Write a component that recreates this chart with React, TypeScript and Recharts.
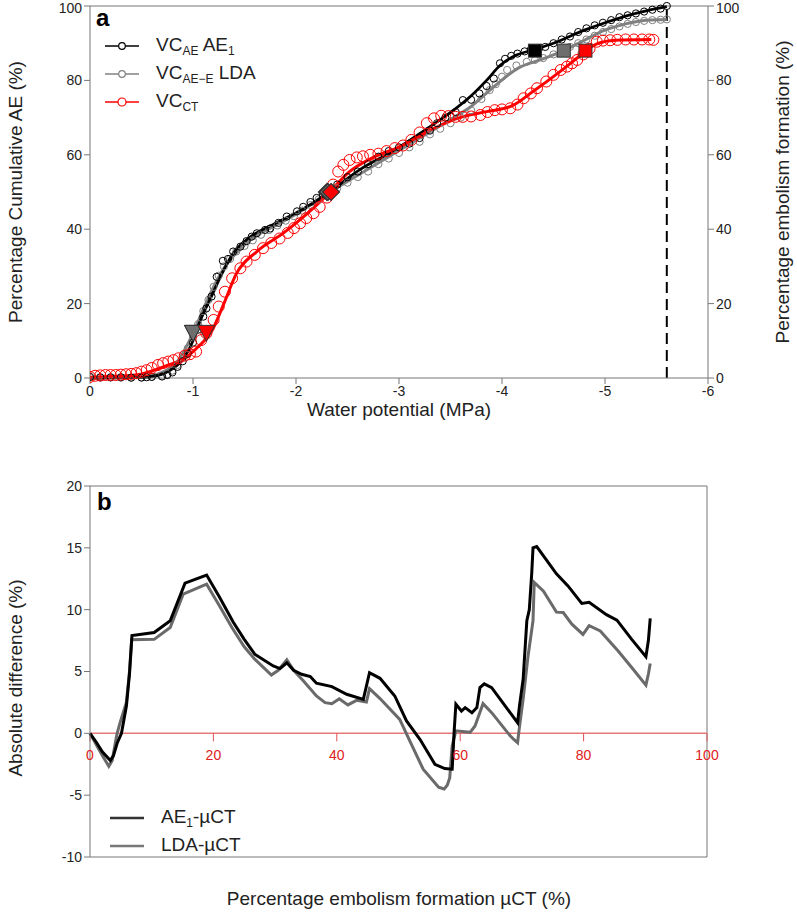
import React from "react";
import { ComposedChart, Line, Scatter, XAxis, YAxis, ReferenceLine } from "recharts";

const FONT = "'Liberation Sans', Arial, Helvetica, sans-serif";

// ---- panel a: vulnerability curves (water potential MPa, % embolism) ----
const psiTicks = [0, -1, -2, -3, -4, -5, -6];
const pctTicks = [0, 20, 40, 60, 80, 100];

const ae1Fit: [number, number][] = [
  [0, 0], [-0.4, 0.1], [-0.6, 0.4], [-0.76, 1.8], [-0.92, 5.7], [-1.0, 10], [-1.05, 14],
  [-1.18, 22], [-1.28, 28], [-1.39, 33.5], [-1.55, 37.8], [-1.78, 41.3], [-2.04, 45],
  [-2.3, 49.5], [-2.62, 56], [-2.94, 61], [-3.27, 67], [-3.53, 72], [-3.69, 75.6],
  [-3.85, 80], [-3.98, 84], [-4.14, 86.8], [-4.3, 88.2], [-4.5, 90], [-4.8, 93.5],
  [-5.0, 95.5], [-5.2, 97.3], [-5.4, 98.7], [-5.6, 99.8],
];

const ldaFit: [number, number][] = [
  [0, 0], [-0.5, 0.3], [-0.7, 1.5], [-0.85, 4.5], [-1.0, 12], [-1.1, 18.5], [-1.2, 24.5],
  [-1.3, 29.5], [-1.4, 33], [-1.55, 37], [-1.8, 41], [-2.0, 44], [-2.3, 49.5], [-2.6, 54.5],
  [-2.9, 59.5], [-3.2, 64.5], [-3.5, 69.5], [-3.7, 73], [-3.92, 78.3], [-4.17, 83.5],
  [-4.37, 85.5], [-4.6, 88], [-4.8, 90.8], [-4.98, 93.3], [-5.2, 95.2], [-5.4, 96.2],
  [-5.6, 96.4],
];

const ctFit: [number, number][] = [
  [0, 0.2], [-0.44, 0.8], [-0.76, 3.5], [-0.92, 5.3], [-1.05, 8.4], [-1.18, 12.5],
  [-1.3, 20], [-1.42, 28], [-1.62, 34], [-1.88, 39], [-2.1, 44], [-2.27, 48.3],
  [-2.36, 51], [-2.52, 55.5], [-2.75, 59.3], [-3.01, 62.2], [-3.33, 67], [-3.59, 70],
  [-3.85, 71.6], [-4.1, 73.2], [-4.3, 77], [-4.56, 82.3], [-4.79, 87.3], [-4.92, 89.8],
  [-5.1, 90.8], [-5.45, 91],
];

const ae1Observed: [number, number][] = [
  [0, 0.3], [-0.1, 0.2], [-0.2, 0.2], [-0.3, 0.2], [-0.4, 0.1], [-0.5, 0.1], [-0.55, 0.2],
  [-0.6, 0.3], [-0.7, 0.4], [-0.75, 0.8], [-0.8, 1.5], [-0.85, 3], [-0.9, 4.5], [-0.95, 6.5],
  [-1.0, 9.5], [-1.05, 13], [-1.1, 16.5], [-1.13, 18.7], [-1.18, 21.9], [-1.23, 27.2],
  [-1.29, 31.5], [-1.34, 32], [-1.39, 34], [-1.46, 35.3], [-1.52, 36.8], [-1.57, 38],
  [-1.62, 38.9], [-1.7, 39.8], [-1.75, 40.2], [-1.83, 41.7], [-1.91, 43.4], [-2.01, 44.8],
  [-2.07, 46], [-2.14, 47.3], [-2.2, 48.4], [-2.26, 49.5], [-2.4, 52], [-2.5, 54],
  [-2.6, 55.5], [-2.7, 57.5], [-2.8, 59.5], [-2.9, 61], [-3.0, 62], [-3.1, 63], [-3.2, 64.5],
  [-3.3, 66.5], [-3.37, 68.5], [-3.45, 70], [-3.55, 71.5], [-3.62, 74.7], [-3.7, 74.8],
  [-3.78, 76.5], [-3.85, 78.5], [-3.92, 80.5], [-3.98, 84.6], [-4.03, 85.8], [-4.09, 86.6],
  [-4.15, 87.2], [-4.22, 87.8], [-4.28, 88.3], [-4.36, 88.6], [-4.42, 89], [-4.5, 90],
  [-4.58, 91], [-4.66, 91.8], [-4.74, 93], [-4.82, 94], [-4.9, 94.8], [-4.98, 95.5],
  [-5.06, 96.2], [-5.14, 97], [-5.22, 97.5], [-5.3, 98], [-5.38, 98.5], [-5.46, 99],
  [-5.54, 99.3], [-5.6, 100],
];

const ldaObserved: [number, number][] = [
  [0, 0.2], [-0.1, 0.1], [-0.2, 0.1], [-0.3, 0.1], [-0.4, 0.1], [-0.5, 0.2], [-0.6, 0.3],
  [-0.7, 0.6], [-0.75, 1], [-0.8, 2], [-0.85, 3.5], [-0.9, 5.5], [-0.95, 8], [-1.0, 11],
  [-1.05, 14.5], [-1.1, 18], [-1.15, 21], [-1.2, 24.5], [-1.25, 27.5], [-1.3, 30],
  [-1.36, 32], [-1.42, 34], [-1.5, 35.5], [-1.58, 37], [-1.66, 38.5], [-1.74, 39.8],
  [-1.82, 41], [-1.9, 42.3], [-1.98, 43.5], [-2.06, 45], [-2.14, 46.5], [-2.22, 48],
  [-2.3, 49.5], [-2.4, 51], [-2.5, 52.5], [-2.6, 54], [-2.7, 55.5], [-2.8, 57.5], [-2.9, 59],
  [-3.0, 60.5], [-3.1, 62], [-3.2, 63.5], [-3.3, 65.5], [-3.4, 67], [-3.5, 68.5], [-3.6, 70],
  [-3.7, 72], [-3.8, 75], [-3.88, 77.4], [-3.94, 79], [-4.0, 81], [-4.05, 82.8], [-4.14, 84],
  [-4.24, 85], [-4.32, 85.5], [-4.4, 86], [-4.5, 87], [-4.58, 88], [-4.66, 89], [-4.74, 90],
  [-4.82, 91], [-4.9, 92], [-4.98, 93], [-5.06, 93.8], [-5.14, 94.5], [-5.22, 95.2],
  [-5.3, 95.7], [-5.38, 96], [-5.46, 96.2], [-5.54, 96.3], [-5.6, 96.4],
];

const ctObserved: [number, number][] = [
  [0, 0.3], [-0.05, 0.6], [-0.1, 0.7], [-0.15, 0.8], [-0.2, 0.8], [-0.25, 0.8], [-0.3, 0.9],
  [-0.35, 1], [-0.4, 1.1], [-0.45, 1.3], [-0.5, 1.7], [-0.55, 2.1], [-0.6, 2.7], [-0.66, 3.5],
  [-0.71, 4], [-0.76, 4.4], [-0.81, 4.8], [-0.86, 5.3], [-0.92, 6], [-0.97, 6.4],
  [-1.03, 7.1], [-1.08, 10.2], [-1.13, 12], [-1.2, 15.6], [-1.25, 19.2], [-1.31, 23.2],
  [-1.38, 26.8], [-1.46, 29.5], [-1.52, 31.3], [-1.6, 33.1], [-1.68, 34.9], [-1.76, 36.3],
  [-1.84, 37.5], [-1.92, 39], [-1.98, 40.3], [-2.04, 41.6], [-2.1, 43], [-2.17, 44.3],
  [-2.23, 46], [-2.3, 48.5], [-2.36, 52], [-2.41, 55.5], [-2.46, 57.3], [-2.52, 58.6],
  [-2.59, 59.3], [-2.65, 59.6], [-2.72, 60], [-2.8, 60.3], [-2.88, 61], [-2.96, 61.8],
  [-3.04, 62.5], [-3.12, 64], [-3.2, 66], [-3.27, 68.5], [-3.34, 69.8], [-3.41, 70.5],
  [-3.48, 70.4], [-3.55, 70.2], [-3.62, 70.2], [-3.7, 70.3], [-3.79, 70.7], [-3.86, 71.5],
  [-3.93, 72], [-4.0, 72.2], [-4.08, 72.5], [-4.15, 73.5], [-4.21, 75.2], [-4.28, 76.5],
  [-4.34, 77.9], [-4.43, 79.7], [-4.5, 81.5], [-4.57, 82.8], [-4.63, 83.7], [-4.68, 84.6],
  [-4.73, 85.5], [-4.79, 87], [-4.85, 88.5], [-4.92, 90.4], [-4.98, 90.7], [-5.05, 90.8],
  [-5.12, 90.9], [-5.2, 91], [-5.28, 91], [-5.36, 91], [-5.43, 91], [-5.47, 90.9],
];

// P12 / P50 / P88 markers
const p12Markers = [
  { x: -1.0, y: 12, fill: "#000" },
  { x: -1.0, y: 12, fill: "#6e6e6e" },
  { x: -1.13, y: 12, fill: "#ff0000" },
];
const p50Markers = [
  { x: -2.3, y: 50, fill: "#000" },
  { x: -2.31, y: 50, fill: "#6e6e6e" },
  { x: -2.34, y: 50, fill: "#ff0000" },
];
const p88Markers = [
  { x: -4.32, y: 88, fill: "#000" },
  { x: -4.6, y: 88, fill: "#6e6e6e" },
  { x: -4.81, y: 88, fill: "#ff0000" },
];
const dashedPsi = -5.6;

// ---- panel b: absolute difference vs µCT embolism ----
const ctPctTicks = [0, 20, 40, 60, 80, 100];
const diffTicks = [-10, -5, 0, 5, 10, 15, 20];

const ae1Diff: [number, number][] = [
  [0, 0], [1, -0.7], [2, -1.5], [3.3, -2.2], [3.8, -1.8], [4.4, -0.8], [5.1, 0], [5.9, 2.2],
  [6.4, 4.8], [6.8, 7.9], [10.4, 8.15], [13.0, 9.1], [15.4, 12.15], [18.9, 12.8], [21, 11],
  [23.2, 9], [25, 7.6], [26.7, 6.4], [29.7, 5.45], [30.8, 5.24], [31.9, 5.7], [33, 5.1],
  [34.3, 4.78], [35.7, 4.59], [36.7, 4.05], [39.2, 3.78], [41.6, 3.16], [44.3, 2.75],
  [45.3, 4.9], [47.0, 4.45], [49.4, 3.02], [51.3, 1], [53.5, -0.5], [55.9, -2.5],
  [57.5, -2.85], [58.7, -2.9], [59.0, 0], [59.3, 2.35], [60.2, 1.8], [60.8, 2.08],
  [61.9, 1.67], [62.7, 2.08], [63.2, 3.7], [63.9, 4.0], [65.1, 3.7], [69.3, 0.86],
  [69.6, 2.2], [70.2, 4.37], [70.8, 9.1], [71.2, 10.0], [71.6, 13], [71.8, 15.0],
  [72.4, 15.1], [73.7, 14.2], [75.6, 12.9], [77.5, 11.9], [79.7, 10.5], [80.9, 10.6],
  [83.7, 9.6], [85.4, 9.15], [87.8, 7.6], [90.1, 6.2], [90.5, 7.5], [90.8, 9.3],
];

const ldaDiff: [number, number][] = [
  [0, 0], [1, -0.9], [2, -1.8], [3.05, -2.66], [3.6, -2.2], [4.2, -0.5], [4.4, 0],
  [4.9, 0.9], [5.9, 2.5], [6.4, 5], [6.75, 7.56], [10.4, 7.6], [13.0, 8.56], [15.1, 11.25],
  [18.9, 12.06], [21, 10.3], [23.0, 8.56], [25, 7], [26.7, 6.0], [29.4, 4.72], [30.5, 5.1],
  [31.9, 5.94], [33, 5.1], [34.6, 4.24], [36.7, 3.02], [38.1, 2.48], [39.2, 2.4],
  [40.4, 2.8], [41.8, 2.3], [43.2, 2.67], [44.8, 2.54], [45.3, 3.62], [47.0, 2.81],
  [50.2, 1.13], [52, -0.8], [54, -2.9], [56.5, -4.35], [57.4, -4.5], [57.9, -4.2],
  [58.3, -3.6], [58.7, -1], [59.3, 0.2], [61.6, 0.08], [62.4, 0.6], [63.7, 2.4],
  [65.1, 1.67], [68.1, -0.2], [68.6, -0.45], [69.3, -0.76], [69.6, 0.5], [70.2, 2.75],
  [71.0, 6.26], [71.8, 9.1], [72.0, 12.2], [73.5, 11.5], [75.6, 9.8], [76.7, 9.77],
  [78.1, 8.83], [79.9, 8.0], [80.9, 8.7], [82.7, 8.28], [85.6, 6.66], [87.8, 5.32],
  [90.1, 3.9], [90.5, 4.8], [90.8, 5.64],
];

const toXY = (pts: [number, number][]) => pts.map(([x, y]) => ({ x, y }));

const axisColor = "#777";
const tickStyle = { fill: "#222", fontSize: 14, fontFamily: FONT };

const openCircle = (stroke: string, r: number) => (p: any) =>
  <circle cx={p.cx} cy={p.cy} r={r} fill="none" stroke={stroke} strokeWidth={1} />;

const triangleDown = (p: any) => (
  <path
    d={`M${p.cx - 8.5},${p.cy - 8} L${p.cx + 8.5},${p.cy - 8} L${p.cx},${p.cy + 8} Z`}
    fill={p.payload.fill}
    stroke="#333"
    strokeWidth={1}
  />
);
const diamond = (p: any) => (
  <path
    d={`M${p.cx},${p.cy - 8.5} L${p.cx + 8.5},${p.cy} L${p.cx},${p.cy + 8.5} L${p.cx - 8.5},${p.cy} Z`}
    fill={p.payload.fill}
    stroke="#333"
    strokeWidth={1.2}
  />
);
const square = (p: any) => (
  <rect x={p.cx - 6.5} y={p.cy - 6.5} width={13} height={13} fill={p.payload.fill} stroke="#333" strokeWidth={1} />
);

const txt: React.CSSProperties = { position: "absolute", fontFamily: FONT, color: "#222", whiteSpace: "nowrap" };
const sub: React.CSSProperties = { fontSize: 12, verticalAlign: "-4px" };

function LegendIcon({ color, r, circle = true }: { color: string; r: number; circle?: boolean }) {
  return (
    <svg width={34} height={12} style={{ verticalAlign: "middle", marginRight: 17 }}>
      <line x1={0} y1={6} x2={34} y2={6} stroke={color} strokeWidth={circle ? 1.3 : 2.5} />
      {circle && <circle cx={17} cy={6} r={r} fill="#fff" stroke={color} strokeWidth={1.2} />}
    </svg>
  );
}

function PanelA() {
  return (
    <ComposedChart width={797} height={440} margin={{ top: 6, right: 0, bottom: 0, left: 0 }}>
      <XAxis
        type="number"
        dataKey="x"
        domain={[-6, 0]}
        reversed
        ticks={psiTicks}
        allowDataOverflow
        height={62}
        stroke={axisColor}
        tick={tickStyle}
        tickSize={6}
      />
      <YAxis yAxisId="l" dataKey="y" type="number" domain={[0, 100]} ticks={pctTicks} width={90} stroke={axisColor} tick={tickStyle} tickSize={6} />
      <YAxis yAxisId="r" dataKey="y" orientation="right" type="number" domain={[0, 100]} ticks={pctTicks} width={89} stroke={axisColor} tick={tickStyle} tickSize={6} />
      <ReferenceLine yAxisId="l" y={100} stroke={axisColor} strokeWidth={1} />
      <ReferenceLine yAxisId="l" x={dashedPsi} stroke="#000" strokeWidth={2} strokeDasharray="11 6" />

      <Scatter yAxisId="l" data={toXY(ldaObserved)} dataKey="y" shape={openCircle("#808080", 3.6)} isAnimationActive={false} />
      <Line yAxisId="l" data={toXY(ldaFit)} dataKey="y" type="monotone" stroke="#808080" strokeWidth={3} dot={false} isAnimationActive={false} />
      <Scatter yAxisId="l" data={toXY(ae1Observed)} dataKey="y" shape={openCircle("#000", 3.6)} isAnimationActive={false} />
      <Line yAxisId="l" data={toXY(ae1Fit)} dataKey="y" type="monotone" stroke="#000" strokeWidth={2.8} dot={false} isAnimationActive={false} />
      <Scatter yAxisId="r" data={toXY(ctObserved)} dataKey="y" shape={openCircle("#ff0000", 5.5)} isAnimationActive={false} />
      <Line yAxisId="r" data={toXY(ctFit)} dataKey="y" type="monotone" stroke="#ff0000" strokeWidth={3} dot={false} isAnimationActive={false} />

      <Scatter yAxisId="l" data={p12Markers} dataKey="y" shape={triangleDown} isAnimationActive={false} />
      <Scatter yAxisId="l" data={p50Markers} dataKey="y" shape={diamond} isAnimationActive={false} />
      <Scatter yAxisId="r" data={p88Markers} dataKey="y" shape={square} isAnimationActive={false} />
    </ComposedChart>
  );
}

function PanelB() {
  return (
    <ComposedChart width={797} height={473} margin={{ top: 46, right: 90, bottom: 0, left: 0 }}>
      <XAxis type="number" dataKey="x" domain={[0, 100]} ticks={ctPctTicks} height={56} stroke={axisColor} tick={false} tickLine={false} />
      <YAxis type="number" dataKey="y" domain={[-10, 20]} ticks={diffTicks} width={90} stroke={axisColor} tick={tickStyle} tickSize={6} />
      <ReferenceLine y={20} stroke={axisColor} />
      <ReferenceLine x={100} stroke={axisColor} />
      <ReferenceLine y={0} stroke="#e87878" strokeWidth={1.5} />
      {ctPctTicks.map((t) => (
        <ReferenceLine
          key={t}
          segment={[{ x: t, y: 0 }, { x: t, y: -0.65 }]}
          stroke="#e05050"
          strokeWidth={1}
          label={{ value: String(t), position: "bottom", offset: 9, fill: "#e02020", fontSize: 14, fontFamily: FONT }}
        />
      ))}
      <Line data={toXY(ldaDiff)} dataKey="y" type="linear" stroke="#6a6a6a" strokeWidth={3} dot={false} isAnimationActive={false} />
      <Line data={toXY(ae1Diff)} dataKey="y" type="linear" stroke="#000" strokeWidth={3} dot={false} isAnimationActive={false} />
    </ComposedChart>
  );
}

export default function App() {
  return (
    <div style={{ position: "absolute", left: 0, top: 0, width: 797, height: 913, background: "#fff", fontFamily: FONT }}>
      <div style={{ position: "absolute", left: 0, top: 0 }}>
        <PanelA />
      </div>
      <div style={{ position: "absolute", left: 0, top: 440 }}>
        <PanelB />
      </div>

      {/* panel a texts */}
      <div style={{ ...txt, left: 96, top: 4, fontSize: 24, fontWeight: "bold", color: "#000" }}>a</div>
      <div style={{ ...txt, left: 105, top: 34, fontSize: 19, lineHeight: "21px" }}>
        <div><LegendIcon color="#000" r={3.3} />VC<span style={sub}>AE</span> AE<span style={sub}>1</span></div>
        <div><LegendIcon color="#808080" r={3.3} />VC<span style={sub}>AE−E</span> LDA</div>
        <div><LegendIcon color="#ff0000" r={4} />VC<span style={sub}>CT</span></div>
      </div>
      <div style={{ ...txt, left: 16, top: 192, fontSize: 19, transform: "translate(-50%, -50%) rotate(-90deg)" }}>
        Percentage Cumulative AE (%)
      </div>
      <div style={{ ...txt, left: 783, top: 192, fontSize: 19, transform: "translate(-50%, -50%) rotate(-90deg)" }}>
        Percentage embolism formation (%)
      </div>
      <div style={{ ...txt, left: 399, top: 410, fontSize: 19, transform: "translate(-50%, -50%)" }}>
        Water potential (MPa)
      </div>

      {/* panel b texts */}
      <div style={{ ...txt, left: 97, top: 488, fontSize: 24, fontWeight: "bold", color: "#000" }}>b</div>
      <div style={{ ...txt, left: 16, top: 678, fontSize: 19, transform: "translate(-50%, -50%) rotate(-90deg)" }}>
        Absolute difference (%)
      </div>
      <div style={{ ...txt, left: 399, top: 899, fontSize: 19, transform: "translate(-50%, -50%)" }}>
        Percentage embolism formation µCT (%)
      </div>
      <div style={{ ...txt, left: 110, top: 806, fontSize: 19, lineHeight: "22px" }}>
        <div><LegendIcon color="#333" r={0} circle={false} />AE<span style={sub}>1</span>-µCT</div>
        <div><LegendIcon color="#777" r={0} circle={false} />LDA-µCT</div>
      </div>
    </div>
  );
}
